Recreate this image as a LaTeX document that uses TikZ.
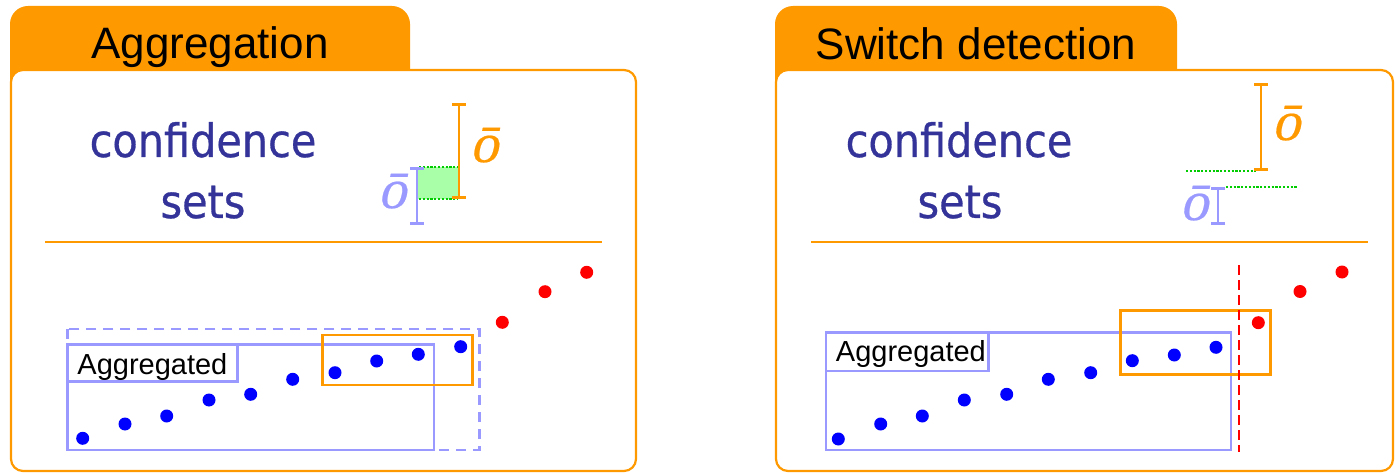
\documentclass[tikz,border=0pt]{standalone}
\usepackage{fontspec}
\setmainfont{Liberation Sans}
\newfontfamily\confont[FakeStretch=0.9,FakeBold=0.6]{DejaVu Sans}
\newfontfamily\obarfont[FakeSlant=0.22,FakeBold=0.4]{Liberation Serif}
\usetikzlibrary{arrows.meta}
\definecolor{tabor}{HTML}{FF9900}
\definecolor{lblue}{HTML}{9999FF}
\definecolor{navy}{HTML}{333399}
\definecolor{dotgreen}{HTML}{00CC00}
\definecolor{fillgreen}{HTML}{A8FFA8}

\begin{document}
\begin{tikzpicture}[x=1pt,y=-1pt,
  tabfill/.style={fill=tabor, rounded corners=18pt},
  panel/.style={draw=tabor, line width=2.2pt, fill=white, rounded corners=12pt},
  sepline/.style={draw=tabor, line width=1.6pt},
  tabtext/.style={font=\fontsize{44}{48}\selectfont, anchor=base, inner sep=0pt},
  conftext/.style={font=\confont\fontsize{46}{50}\selectfont, text=navy, anchor=base, inner sep=0pt},
  obar/.style={font=\obarfont\fontsize{56}{60}\selectfont, anchor=base, inner sep=0pt},
  orbar/.style={draw=tabor, line width=2.8pt, {Bar[width=14pt]}-{Bar[width=14pt]}},
  blbar/.style={draw=lblue, line width=2.8pt, {Bar[width=14pt]}-{Bar[width=14pt]}},
  greendots/.style={draw=dotgreen, line width=2.4pt, dash pattern=on 2.2pt off 1.6pt},
  bdot/.style={circle, fill=blue, inner sep=0pt, minimum size=13pt},
  rdot/.style={circle, fill=red, inner sep=0pt, minimum size=13pt},
  aggbox/.style={draw=lblue, line width=2.6pt},
  aggdash/.style={draw=lblue, line width=2.6pt, dash pattern=on 10pt off 7pt},
  winbox/.style={draw=tabor, line width=2.6pt},
  agglabel/.style={font=\fontsize{29}{32}\selectfont, anchor=base, inner sep=0pt},
  switchline/.style={draw=red, line width=2.4pt, dash pattern=on 10pt off 5pt}
]
\useasboundingbox (0,0) rectangle (1395,473);

% ---------- tabs and panels ----------
\fill[tabfill] (10,6) rectangle (410,110);
\fill[tabfill] (775,6) rectangle (1177,110);
\draw[panel] (11,70) rectangle (636,471);
\draw[panel] (776,70) rectangle (1393,471);
\node[tabtext] (tabL) at (210,59) {Aggregation};
\node[tabtext] (tabR) at (976,60) {Switch detection};
\draw[sepline] (45,242) -- (602,242);
\draw[sepline] (811,242) -- (1368,242);

% ---------- heading text ----------
\node[conftext] (confL) at (203,157) {confidence};
\node[conftext] (setsL) at (203,218) {sets};
\node[conftext] (confR) at (959,157) {confidence};
\node[conftext] (setsR) at (960,218) {sets};

% ---------- confidence intervals, left: overlapping ----------
\fill[fillgreen] (418,167) rectangle (459,199);
\draw[greendots] (419,167) -- (458,167);
\draw[greendots] (419,199) -- (458,199);
\draw[orbar] (459,103) -- (459,199);
\draw[blbar] (417,167) -- (417,225);
\node[obar, text=tabor] (obarLo) at (484,162) {ō};
\node[obar, text=lblue] (obarLb) at (392,208) {ō};

% ---------- confidence intervals, right: disjoint ----------
\draw[greendots] (1186,171) -- (1256,171);
\draw[greendots] (1226,187) -- (1297,187);
\draw[orbar] (1261,83) -- (1261,171);
\draw[blbar] (1218,187) -- (1218,225);
\node[obar, text=tabor] (obarRo) at (1286,140) {ō};
\node[obar, text=lblue] (obarRb) at (1194,220) {ō};

% ---------- left panel: data and windows ----------
\draw[aggdash] (67.3,329) rectangle (479.3,450);
\draw[aggbox] (67.3,344.3) rectangle (434,450);
\draw[aggbox] (67.3,344.3) rectangle (237.7,381.7);
\node[agglabel] (aggL) at (152.4,374) {Aggregated};
\draw[winbox] (322.7,335) rectangle (472.7,385);
\foreach \n/\x/\y in {1/82.7/438.3, 2/125/424, 3/166.7/416, 4/209/400, 5/250.7/394.3,
                     6/292.7/379.3, 7/335/372.7, 8/376.7/361, 9/418.3/354.3, 10/460.7/346.7}
  \node[bdot] (pL\n) at (\x,\y) {};
\node[rdot] (qL1) at (502.3,322.3) {};
\node[rdot] (qL2) at (545,291.7) {};
\node[rdot] (qL3) at (586.7,272.3) {};

% ---------- right panel: data, windows and switch point ----------
\draw[aggbox] (826,332.7) rectangle (1231,450);
\draw[aggbox] (826,332.7) rectangle (988.3,371);
\node[agglabel] (aggR) at (910.9,361.7) {Aggregated};
\draw[winbox] (1120.7,310.7) rectangle (1270.7,374.3);
\foreach \n/\x/\y in {1/838.3/439, 2/880.7/424, 3/922.3/416, 4/964.3/400, 5/1006.7/394.3,
                     6/1048.3/379.3, 7/1090.7/372.7, 8/1132.3/360.7, 9/1174.3/355, 10/1216/347.3}
  \node[bdot] (pR\n) at (\x,\y) {};
\node[rdot] (qR1) at (1258.3,322.7) {};
\node[rdot] (qR2) at (1300,291.5) {};
\node[rdot] (qR3) at (1342,272) {};
\coordinate (swTop) at (1239,265);
\coordinate (swBot) at (1239,452);
\draw[switchline] (swTop) -- (swBot);
\end{tikzpicture}
\end{document}
